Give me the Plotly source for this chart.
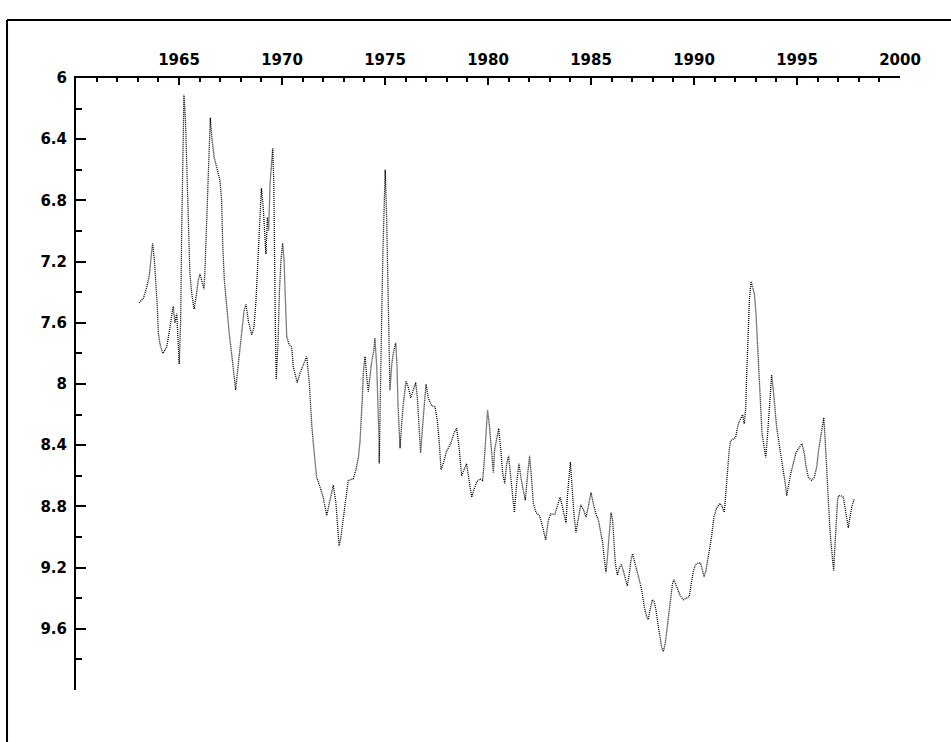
import plotly.graph_objects as go

# ---- data ----
years = [
    1963.06, 1963.27, 1963.43, 1963.56, 1963.67, 1963.72, 1963.80, 1963.88, 1963.95, 1964.00,
    1964.08, 1964.21, 1964.40, 1964.56, 1964.72, 1964.80, 1964.89, 1965.01, 1965.08, 1965.13,
    1965.18, 1965.24, 1965.31, 1965.37, 1965.42, 1965.49, 1965.53, 1965.62, 1965.73, 1965.83,
    1965.94, 1966.02, 1966.13, 1966.21, 1966.26, 1966.34, 1966.42, 1966.47, 1966.52, 1966.60,
    1966.71, 1966.86, 1966.99, 1967.07, 1967.12, 1967.20, 1967.32, 1967.44, 1967.57, 1967.67,
    1967.75, 1967.83, 1967.93, 1968.04, 1968.16, 1968.25, 1968.37, 1968.53, 1968.64, 1968.74,
    1968.80, 1968.90, 1969.00, 1969.09, 1969.16, 1969.22, 1969.29, 1969.35, 1969.42, 1969.50,
    1969.55, 1969.60, 1969.63, 1969.68, 1969.72, 1969.81, 1969.87, 1969.95, 1970.03, 1970.10,
    1970.16, 1970.23, 1970.34, 1970.47, 1970.55, 1970.67, 1970.74, 1970.87, 1971.03, 1971.20,
    1971.33, 1971.44, 1971.55, 1971.68, 1971.84, 1972.00, 1972.17, 1972.33, 1972.49, 1972.62,
    1972.70, 1972.77, 1972.86, 1972.98, 1973.09, 1973.22, 1973.46, 1973.59, 1973.71, 1973.79,
    1973.83, 1973.90, 1973.95, 1974.03, 1974.11, 1974.19, 1974.27, 1974.36, 1974.47, 1974.51,
    1974.60, 1974.66, 1974.71, 1974.72, 1974.77, 1974.84, 1974.90, 1974.97, 1975.01, 1975.08,
    1975.15, 1975.21, 1975.24, 1975.33, 1975.40, 1975.52, 1975.58, 1975.63, 1975.68, 1975.73,
    1975.81, 1975.89, 1976.02, 1976.13, 1976.25, 1976.37, 1976.49, 1976.57, 1976.62, 1976.67,
    1976.73, 1976.81, 1976.89, 1976.99, 1977.10, 1977.26, 1977.43, 1977.54, 1977.64, 1977.72,
    1977.83, 1977.99, 1978.19, 1978.35, 1978.48, 1978.61, 1978.72, 1978.83, 1978.96, 1979.08,
    1979.21, 1979.32, 1979.45, 1979.61, 1979.74, 1979.82, 1979.90, 1979.98, 1980.06, 1980.13,
    1980.19, 1980.26, 1980.32, 1980.42, 1980.52, 1980.62, 1980.71, 1980.81, 1980.91, 1981.00,
    1981.10, 1981.20, 1981.28, 1981.39, 1981.50, 1981.62, 1981.71, 1981.81, 1981.91, 1982.02,
    1982.12, 1982.20, 1982.33, 1982.49, 1982.61, 1982.72, 1982.80, 1982.93, 1983.04, 1983.25,
    1983.41, 1983.50, 1983.61, 1983.72, 1983.79, 1983.85, 1983.93, 1984.00, 1984.08, 1984.17,
    1984.27, 1984.38, 1984.50, 1984.63, 1984.76, 1984.87, 1985.00, 1985.11, 1985.24, 1985.36,
    1985.47, 1985.57, 1985.65, 1985.73, 1985.81, 1985.89, 1985.97, 1986.05, 1986.12, 1986.18,
    1986.28, 1986.38, 1986.47, 1986.57, 1986.68, 1986.76, 1986.86, 1986.94, 1987.02, 1987.14,
    1987.25, 1987.38, 1987.49, 1987.59, 1987.70, 1987.78, 1987.86, 1987.98, 1988.06, 1988.16,
    1988.24, 1988.35, 1988.43, 1988.51, 1988.61, 1988.70, 1988.80, 1988.88, 1988.96, 1989.03,
    1989.16, 1989.32, 1989.48, 1989.64, 1989.77, 1989.87, 1989.97, 1990.08, 1990.21, 1990.32,
    1990.42, 1990.49, 1990.58, 1990.70, 1990.85, 1990.97, 1991.10, 1991.26, 1991.36, 1991.47,
    1991.55, 1991.62, 1991.71, 1991.78, 1991.91, 1992.02, 1992.15, 1992.27, 1992.36, 1992.44,
    1992.51, 1992.56, 1992.62, 1992.69, 1992.77, 1992.85, 1992.93, 1993.01, 1993.09, 1993.17,
    1993.24, 1993.30, 1993.40, 1993.48, 1993.56, 1993.64, 1993.72, 1993.77, 1993.85, 1993.93,
    1994.01, 1994.13, 1994.24, 1994.34, 1994.43, 1994.50, 1994.60, 1994.69, 1994.82, 1994.95,
    1995.08, 1995.24, 1995.35, 1995.44, 1995.55, 1995.71, 1995.84, 1995.96, 1996.05, 1996.15,
    1996.23, 1996.30, 1996.36, 1996.42, 1996.47, 1996.52, 1996.59, 1996.65, 1996.73, 1996.78,
    1996.84, 1996.91, 1996.97, 1997.02, 1997.12, 1997.25, 1997.33, 1997.41, 1997.49, 1997.57,
    1997.65, 1997.78,
]

values = [
    7.47, 7.44, 7.37, 7.29, 7.14, 7.08, 7.18, 7.34, 7.50, 7.67,
    7.74, 7.80, 7.76, 7.63, 7.49, 7.60, 7.54, 7.87, 7.59, 7.00,
    6.40, 6.11, 6.26, 6.52, 6.82, 7.11, 7.28, 7.41, 7.51, 7.43,
    7.32, 7.28, 7.35, 7.38, 7.26, 6.95, 6.67, 6.40, 6.26, 6.40,
    6.52, 6.60, 6.67, 6.80, 7.08, 7.32, 7.50, 7.67, 7.82, 7.93,
    8.04, 7.93, 7.80, 7.63, 7.52, 7.48, 7.59, 7.68, 7.63, 7.45,
    7.26, 7.02, 6.72, 6.85, 7.04, 7.15, 6.91, 7.00, 6.69, 6.56,
    6.46, 6.67, 7.20, 7.65, 7.97, 7.72, 7.41, 7.19, 7.08, 7.19,
    7.43, 7.69, 7.74, 7.76, 7.89, 7.95, 7.99, 7.93, 7.88, 7.82,
    8.00, 8.26, 8.43, 8.61, 8.67, 8.74, 8.86, 8.76, 8.66, 8.78,
    8.95, 9.06, 9.00, 8.89, 8.76, 8.63, 8.62, 8.56, 8.48, 8.37,
    8.22, 8.09, 7.92, 7.82, 7.95, 8.05, 7.95, 7.85, 7.77, 7.70,
    7.89, 8.13, 8.37, 8.52, 8.00, 7.56, 7.13, 6.80, 6.60, 6.91,
    7.35, 7.78, 8.04, 7.87, 7.80, 7.73, 7.87, 8.13, 8.30, 8.42,
    8.26, 8.13, 7.98, 8.02, 8.09, 8.04, 7.99, 8.09, 8.22, 8.37,
    8.45, 8.30, 8.15, 8.00, 8.09, 8.14, 8.15, 8.24, 8.39, 8.56,
    8.52, 8.44, 8.39, 8.32, 8.29, 8.43, 8.60, 8.56, 8.52, 8.63,
    8.74, 8.69, 8.64, 8.62, 8.63, 8.50, 8.32, 8.17, 8.26, 8.37,
    8.45, 8.58, 8.43, 8.37, 8.29, 8.43, 8.58, 8.65, 8.52, 8.47,
    8.61, 8.74, 8.84, 8.65, 8.52, 8.63, 8.69, 8.76, 8.61, 8.47,
    8.63, 8.78, 8.84, 8.86, 8.91, 8.98, 9.02, 8.89, 8.85, 8.85,
    8.78, 8.74, 8.80, 8.87, 8.91, 8.74, 8.59, 8.51, 8.67, 8.85,
    8.97, 8.87, 8.79, 8.82, 8.87, 8.80, 8.71, 8.78, 8.85, 8.89,
    8.96, 9.04, 9.15, 9.23, 9.11, 8.96, 8.84, 8.89, 9.02, 9.17,
    9.25, 9.20, 9.18, 9.22, 9.28, 9.32, 9.24, 9.15, 9.11, 9.17,
    9.23, 9.30, 9.37, 9.46, 9.52, 9.54, 9.48, 9.41, 9.42, 9.48,
    9.56, 9.65, 9.72, 9.75, 9.69, 9.59, 9.48, 9.39, 9.30, 9.28,
    9.32, 9.38, 9.41, 9.40, 9.39, 9.30, 9.22, 9.18, 9.17, 9.17,
    9.23, 9.26, 9.22, 9.13, 9.00, 8.87, 8.81, 8.78, 8.80, 8.84,
    8.69, 8.54, 8.43, 8.37, 8.36, 8.35, 8.26, 8.23, 8.20, 8.26,
    8.16, 7.93, 7.69, 7.45, 7.33, 7.37, 7.41, 7.54, 7.76, 7.98,
    8.19, 8.32, 8.41, 8.48, 8.35, 8.17, 8.02, 7.94, 8.04, 8.15,
    8.28, 8.39, 8.48, 8.59, 8.65, 8.73, 8.65, 8.59, 8.52, 8.45,
    8.42, 8.39, 8.45, 8.54, 8.61, 8.63, 8.61, 8.54, 8.43, 8.35,
    8.28, 8.22, 8.35, 8.52, 8.69, 8.82, 8.93, 9.04, 9.15, 9.22,
    9.06, 8.87, 8.76, 8.73, 8.73, 8.74, 8.80, 8.87, 8.94, 8.87,
    8.81, 8.75,
]

x_ticks = [1965, 1970, 1975, 1980, 1985, 1990, 1995, 2000]
x_tick_labels = ["1965", "1970", "1975", "1980", "1985", "1990", "1995", "2000"]
x_minor = [y for y in range(1961, 2000)]
y_ticks = [6.0, 6.4, 6.8, 7.2, 7.6, 8.0, 8.4, 8.8, 9.2, 9.6]
y_tick_labels = ["6", "6.4", "6.8", "7.2", "7.6", "8", "8.4", "8.8", "9.2", "9.6"]
y_minor = [6.2, 6.6, 7.0, 7.4, 7.8, 8.2, 8.6, 9.0, 9.4, 9.8]

# ---- figure ----
fig = go.Figure()
fig.add_trace(go.Scatter(
    x=years, y=values, mode="lines",
    line=dict(color="black", width=1.3, dash="1px,1px"),
    showlegend=False, hoverinfo="skip",
))

tick_font = dict(family="DejaVu Sans", size=15, color="black", weight="bold")

fig.update_layout(
    width=951, height=742,
    margin=dict(l=76, r=51, t=78, b=52),
    paper_bgcolor="white", plot_bgcolor="white",
    showlegend=False,
    xaxis=dict(
        side="top", range=[1960, 2000],
        tickmode="array", tickvals=x_ticks, ticktext=x_tick_labels,
        ticks="inside", ticklen=7, tickwidth=2, tickcolor="black",
        minor=dict(tickmode="array", tickvals=x_minor, ticks="inside",
                   ticklen=4, tickwidth=2, tickcolor="black", showgrid=False),
        showline=True, linecolor="black", linewidth=2,
        showgrid=False, zeroline=False, tickfont=tick_font,
        ticklabelstandoff=5,
    ),
    yaxis=dict(
        range=[10, 6],
        tickmode="array", tickvals=y_ticks, ticktext=y_tick_labels,
        ticks="inside", ticklen=10, tickwidth=2, tickcolor="black",
        minor=dict(tickmode="array", tickvals=y_minor, ticks="inside",
                   ticklen=6, tickwidth=2, tickcolor="black", showgrid=False),
        showline=True, linecolor="black", linewidth=2,
        showgrid=False, zeroline=False, tickfont=tick_font,
        ticklabelstandoff=4,
    ),
    shapes=[
        dict(type="line", xref="paper", yref="paper",
             x0=-0.0837, x1=-0.0837, y0=-0.2, y1=1.0948,
             line=dict(color="black", width=2)),
        dict(type="line", xref="paper", yref="paper",
             x0=-0.0837, x1=1.2, y0=1.0948, y1=1.0948,
             line=dict(color="black", width=2)),
    ],
)

fig.write_html("out.html", config={"displayModeBar": False},
               post_script="document.body.style.margin='0';")
